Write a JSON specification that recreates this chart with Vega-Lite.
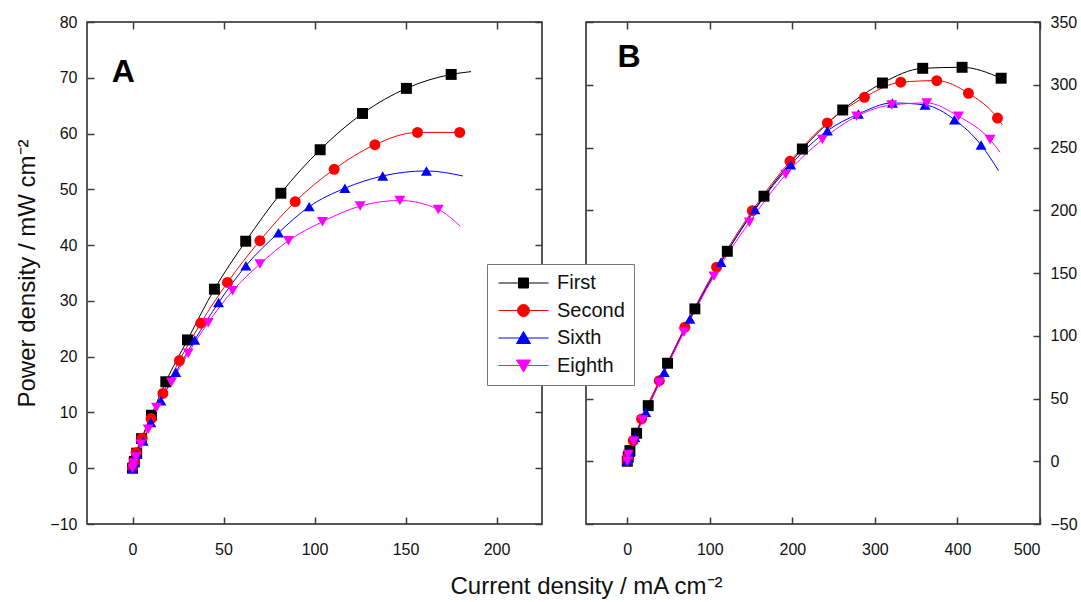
{
 "$schema": "https://vega.github.io/schema/vega-lite/v6.json",
 "padding": {"left": 15, "top": 13, "right": 2, "bottom": 3},
 "background": "white",
 "config": {
   "font": "Liberation Sans",
   "view": {"stroke": "#222222", "strokeWidth": 1.5},
   "axis": {"domain": false, "grid": false, "labelFontSize": 16, "labelColor": "#111111", "labelPadding": 17, "titleFontSize": 24, "titleFontWeight": "normal", "titleColor": "#111111"},
   "axisBottom": {"labelPadding": 24},
   "legend": {"title": null, "orient": "none", "legendX": 400, "legendY": 242, "strokeColor": "#777777", "fillColor": "white", "padding": 9, "labelFontSize": 20, "labelColor": "#111111", "symbolSize": 2500, "symbolStrokeWidth": 1, "clipHeight": 20, "rowPadding": 7.5, "labelOffset": 8, "symbolOffset": 2}
 },
 "title": {"text": "Current density / mA cm⁻²", "orient": "bottom", "anchor": "middle", "fontSize": 24, "fontWeight": "normal", "color": "#111111", "offset": 17, "dx": 40},
 "datasets": {
  "a": [
   {"s":"First","j":0,"p":0,"k":"pt"},{"s":"First","j":1.0,"p":1.2,"k":"pt"},{"s":"First","j":2.3,"p":2.7,"k":"pt"},{"s":"First","j":5.0,"p":5.3,"k":"pt"},{"s":"First","j":10.4,"p":9.5,"k":"pt"},{"s":"First","j":18.3,"p":15.5,"k":"pt"},{"s":"First","j":30.2,"p":23.0,"k":"pt"},{"s":"First","j":45,"p":32.1,"k":"pt"},{"s":"First","j":62.2,"p":40.7,"k":"pt"},{"s":"First","j":81.5,"p":49.3,"k":"pt"},{"s":"First","j":103.1,"p":57.1,"k":"pt"},{"s":"First","j":126.4,"p":63.6,"k":"pt"},{"s":"First","j":150.5,"p":68.1,"k":"pt"},{"s":"First","j":175.1,"p":70.6,"k":"pt"},{"s":"First","j":186,"p":71.1,"k":"fit"},
   {"s":"Second","j":0,"p":0,"k":"pt"},{"s":"Second","j":0.9,"p":1.2,"k":"pt"},{"s":"Second","j":2.0,"p":2.8,"k":"pt"},{"s":"Second","j":5.3,"p":5.4,"k":"pt"},{"s":"Second","j":10.2,"p":8.9,"k":"pt"},{"s":"Second","j":16.7,"p":13.4,"k":"pt"},{"s":"Second","j":25.8,"p":19.3,"k":"pt"},{"s":"Second","j":37.5,"p":26.0,"k":"pt"},{"s":"Second","j":52.2,"p":33.3,"k":"pt"},{"s":"Second","j":70,"p":40.8,"k":"pt"},{"s":"Second","j":89.4,"p":47.8,"k":"pt"},{"s":"Second","j":110.8,"p":53.6,"k":"pt"},{"s":"Second","j":133.2,"p":58.0,"k":"pt"},{"s":"Second","j":156.6,"p":60.2,"k":"pt"},{"s":"Second","j":179.8,"p":60.2,"k":"pt"},
   {"s":"Sixth","j":0,"p":0,"k":"pt"},{"s":"Sixth","j":1.0,"p":1.0,"k":"pt"},{"s":"Sixth","j":2.4,"p":2.5,"k":"pt"},{"s":"Sixth","j":5.9,"p":4.9,"k":"pt"},{"s":"Sixth","j":10.1,"p":8.2,"k":"pt"},{"s":"Sixth","j":15.6,"p":12.1,"k":"pt"},{"s":"Sixth","j":23.8,"p":17.2,"k":"pt"},{"s":"Sixth","j":34.2,"p":23.0,"k":"pt"},{"s":"Sixth","j":47.3,"p":29.7,"k":"pt"},{"s":"Sixth","j":62.3,"p":36.3,"k":"pt"},{"s":"Sixth","j":80.2,"p":42.2,"k":"pt"},{"s":"Sixth","j":97.1,"p":46.9,"k":"pt"},{"s":"Sixth","j":116.7,"p":50.2,"k":"pt"},{"s":"Sixth","j":137.5,"p":52.4,"k":"pt"},{"s":"Sixth","j":161.5,"p":53.3,"k":"pt"},{"s":"Sixth","j":181.5,"p":52.4,"k":"fit"},
   {"s":"Eighth","j":0,"p":0,"k":"pt"},{"s":"Eighth","j":0.6,"p":0.9,"k":"pt"},{"s":"Eighth","j":1.8,"p":2.0,"k":"pt"},{"s":"Eighth","j":4.6,"p":4.3,"k":"pt"},{"s":"Eighth","j":8.6,"p":7.0,"k":"pt"},{"s":"Eighth","j":13.2,"p":10.9,"k":"pt"},{"s":"Eighth","j":21.4,"p":15.4,"k":"pt"},{"s":"Eighth","j":30.6,"p":20.6,"k":"pt"},{"s":"Eighth","j":41.6,"p":26.1,"k":"pt"},{"s":"Eighth","j":55,"p":31.8,"k":"pt"},{"s":"Eighth","j":70,"p":36.6,"k":"pt"},{"s":"Eighth","j":85.7,"p":40.8,"k":"pt"},{"s":"Eighth","j":104.4,"p":44.2,"k":"pt"},{"s":"Eighth","j":125.1,"p":47.0,"k":"pt"},{"s":"Eighth","j":146.9,"p":48.0,"k":"pt"},{"s":"Eighth","j":168,"p":46.4,"k":"pt"},{"s":"Eighth","j":180,"p":43.4,"k":"fit"}
  ],
  "b": [
   {"s":"First","j":0,"p":0,"k":"pt"},{"s":"First","j":1.2,"p":3.5,"k":"pt"},{"s":"First","j":3.2,"p":8.5,"k":"pt"},{"s":"First","j":11.3,"p":22.3,"k":"pt"},{"s":"First","j":25.4,"p":44.3,"k":"pt"},{"s":"First","j":48.8,"p":78.1,"k":"pt"},{"s":"First","j":81.9,"p":121.4,"k":"pt"},{"s":"First","j":121.2,"p":167.3,"k":"pt"},{"s":"First","j":165.6,"p":211.2,"k":"pt"},{"s":"First","j":212.1,"p":248.8,"k":"pt"},{"s":"First","j":261,"p":279.9,"k":"pt"},{"s":"First","j":309.1,"p":301.4,"k":"pt"},{"s":"First","j":357.9,"p":313.1,"k":"pt"},{"s":"First","j":405.6,"p":313.9,"k":"pt"},{"s":"First","j":452.9,"p":305.2,"k":"pt"},
   {"s":"Second","j":0,"p":0,"k":"pt"},{"s":"Second","j":1.2,"p":3.5,"k":"pt"},{"s":"Second","j":7.2,"p":16.4,"k":"pt"},{"s":"Second","j":17.3,"p":33.7,"k":"pt"},{"s":"Second","j":38.8,"p":64.2,"k":"pt"},{"s":"Second","j":69.8,"p":106.8,"k":"pt"},{"s":"Second","j":108.2,"p":154.6,"k":"pt"},{"s":"Second","j":151.5,"p":199.7,"k":"pt"},{"s":"Second","j":197.1,"p":239,"k":"pt"},{"s":"Second","j":242.4,"p":269.6,"k":"pt"},{"s":"Second","j":287.3,"p":290,"k":"pt"},{"s":"Second","j":331.3,"p":302,"k":"pt"},{"s":"Second","j":374.9,"p":303.3,"k":"pt"},{"s":"Second","j":413.3,"p":293.2,"k":"pt"},{"s":"Second","j":448.5,"p":273.5,"k":"pt"},{"s":"Second","j":454.5,"p":268,"k":"fit"},
   {"s":"Sixth","j":0,"p":0,"k":"pt"},{"s":"Sixth","j":1.0,"p":2.5,"k":"pt"},{"s":"Sixth","j":3.2,"p":7.2,"k":"pt"},{"s":"Sixth","j":9.2,"p":19.1,"k":"pt"},{"s":"Sixth","j":22.5,"p":39,"k":"pt"},{"s":"Sixth","j":44.8,"p":70.9,"k":"pt"},{"s":"Sixth","j":75.9,"p":113.4,"k":"pt"},{"s":"Sixth","j":113.5,"p":158.6,"k":"pt"},{"s":"Sixth","j":154.7,"p":200.5,"k":"pt"},{"s":"Sixth","j":198,"p":236.3,"k":"pt"},{"s":"Sixth","j":242.4,"p":263.4,"k":"pt"},{"s":"Sixth","j":280,"p":276.7,"k":"pt"},{"s":"Sixth","j":321.2,"p":285.5,"k":"pt"},{"s":"Sixth","j":360.7,"p":283.9,"k":"pt"},{"s":"Sixth","j":396.4,"p":272.2,"k":"pt"},{"s":"Sixth","j":428.6,"p":252,"k":"pt"},{"s":"Sixth","j":449.7,"p":231.6,"k":"fit"},
   {"s":"Eighth","j":0,"p":0,"k":"pt"},{"s":"Eighth","j":1.2,"p":5.3,"k":"pt"},{"s":"Eighth","j":8,"p":15.9,"k":"pt"},{"s":"Eighth","j":18.5,"p":32.9,"k":"pt"},{"s":"Eighth","j":38.8,"p":62.4,"k":"pt"},{"s":"Eighth","j":68.6,"p":102.8,"k":"pt"},{"s":"Eighth","j":105,"p":147.4,"k":"pt"},{"s":"Eighth","j":147.9,"p":190.4,"k":"pt"},{"s":"Eighth","j":191.9,"p":228.4,"k":"pt"},{"s":"Eighth","j":236.4,"p":256.3,"k":"pt"},{"s":"Eighth","j":278,"p":274.9,"k":"pt"},{"s":"Eighth","j":320.4,"p":283.9,"k":"pt"},{"s":"Eighth","j":362.8,"p":285.5,"k":"pt"},{"s":"Eighth","j":401.2,"p":274.9,"k":"pt"},{"s":"Eighth","j":439.5,"p":256.3,"k":"pt"},{"s":"Eighth","j":451.6,"p":246.2,"k":"fit"}
  ],
  "la": [{"t":"A","j":-5,"p":71}],
  "lb": [{"t":"B","j":2,"p":322}]
 },
 "spacing": 40,
 "hconcat": [
  {
   "width": 455, "height": 502,
   "resolve": {"axis": {"x": "independent", "y": "independent"}},
   "layer": [
    {"data": {"name": "a"}, "mark": {"type": "line", "interpolate": "monotone", "strokeWidth": 1},
     "encoding": {
      "x": {"field": "j", "type": "quantitative", "scale": {"domain": [-25, 225], "nice": false, "zero": false}, "axis": {"orient": "bottom", "values": [0, 50, 100, 150, 200], "title": null, "tickSize": -7, "tickColor": "#3a3a3a", "tickWidth": 1.5, "offset": 0}},
      "y": {"field": "p", "type": "quantitative", "scale": {"domain": [-10, 80], "nice": false, "zero": false}, "axis": {"orient": "left", "values": [-10, 0, 10, 20, 30, 40, 50, 60, 70, 80], "title": "Power density / mW cm⁻²", "titlePadding": 10, "tickSize": -7, "tickColor": "#3a3a3a", "tickWidth": 1.5, "offset": 0}},
      "color": {"field": "s", "type": "nominal", "scale": {"domain": ["First", "Second", "Sixth", "Eighth"], "range": ["#000000", "#ff0000", "#0000ff", "#ff00ff"]},
        "legend": {"encode": {"symbols": {"update": {
            "shape": {"signal": "datum.value === 'First' ? 'M-1,0H1M-0.2,-0.2H0.2V0.2H-0.2Z' : datum.value === 'Second' ? 'M-1,0H1M0.24,0A0.24,0.24,0,1,1,-0.24,0A0.24,0.24,0,1,1,0.24,0Z' : datum.value === 'Sixth' ? 'M-1,0H1M0,-0.26L0.28,0.22L-0.28,0.22Z' : 'M-1,0H1M0,0.26L0.28,-0.22L-0.28,-0.22Z'"},
            "strokeWidth": {"value": 1}, "opacity": {"value": 1}, "fillOpacity": {"value": 1}, "strokeOpacity": {"value": 1}}}}}}
     }},
    {"data": {"name": "a"}, "transform": [{"filter": "datum.k == 'pt'"}], "mark": {"type": "point", "filled": true, "opacity": 1, "size": 120},
     "encoding": {
      "x": {"field": "j", "type": "quantitative", "scale": {"domain": [-25, 225], "nice": false, "zero": false}, "axis": {"orient": "top", "values": [0, 50, 100, 150, 200], "labels": false, "title": null, "tickSize": -7, "tickColor": "#3a3a3a", "tickWidth": 1.5, "offset": 0}},
      "y": {"field": "p", "type": "quantitative", "scale": {"domain": [-10, 80], "nice": false, "zero": false}, "axis": {"orient": "right", "values": [-10, 0, 10, 20, 30, 40, 50, 60, 70, 80], "labels": false, "title": null, "tickSize": -7, "tickColor": "#3a3a3a", "tickWidth": 1.5, "offset": 0}},
      "color": {"field": "s", "type": "nominal", "scale": {"domain": ["First", "Second", "Sixth", "Eighth"], "range": ["#000000", "#ff0000", "#0000ff", "#ff00ff"]},
        "legend": {"encode": {"symbols": {"update": {
            "shape": {"signal": "datum.value === 'First' ? 'M-1,0H1M-0.2,-0.2H0.2V0.2H-0.2Z' : datum.value === 'Second' ? 'M-1,0H1M0.24,0A0.24,0.24,0,1,1,-0.24,0A0.24,0.24,0,1,1,0.24,0Z' : datum.value === 'Sixth' ? 'M-1,0H1M0,-0.26L0.28,0.22L-0.28,0.22Z' : 'M-1,0H1M0,0.26L0.28,-0.22L-0.28,-0.22Z'"},
            "strokeWidth": {"value": 1}, "opacity": {"value": 1}, "fillOpacity": {"value": 1}, "strokeOpacity": {"value": 1}}}}}},
      "shape": {"field": "s", "type": "nominal", "scale": {"domain": ["Eighth", "First", "Second", "Sixth"], "range": ["triangle-down", "square", "circle", "triangle-up"]}, "legend": null}
     }},
    {"data": {"name": "la"}, "mark": {"type": "text", "fontSize": 32, "fontWeight": "bold", "color": "#000000"},
     "encoding": {"x": {"field": "j", "type": "quantitative", "axis": null}, "y": {"field": "p", "type": "quantitative", "axis": null}, "text": {"field": "t"}}}
   ]
  },
  {
   "width": 454, "height": 502,
   "resolve": {"axis": {"x": "independent", "y": "independent"}},
   "layer": [
    {"data": {"name": "b"}, "mark": {"type": "line", "interpolate": "monotone", "strokeWidth": 1},
     "encoding": {
      "x": {"field": "j", "type": "quantitative", "scale": {"domain": [-50, 500], "nice": false, "zero": false}, "axis": {"orient": "bottom", "values": [0, 100, 200, 300, 400, 500], "title": null, "tickSize": -7, "tickColor": "#3a3a3a", "tickWidth": 1.5, "offset": 0}},
      "y": {"field": "p", "type": "quantitative", "scale": {"domain": [-50, 350], "nice": false, "zero": false}, "axis": {"orient": "right", "values": [-50, 0, 50, 100, 150, 200, 250, 300, 350], "title": null, "tickSize": -7, "tickColor": "#3a3a3a", "tickWidth": 1.5, "offset": 0}},
      "color": {"field": "s", "type": "nominal", "scale": {"domain": ["First", "Second", "Sixth", "Eighth"], "range": ["#000000", "#ff0000", "#0000ff", "#ff00ff"]},
        "legend": {"encode": {"symbols": {"update": {
            "shape": {"signal": "datum.value === 'First' ? 'M-1,0H1M-0.2,-0.2H0.2V0.2H-0.2Z' : datum.value === 'Second' ? 'M-1,0H1M0.24,0A0.24,0.24,0,1,1,-0.24,0A0.24,0.24,0,1,1,0.24,0Z' : datum.value === 'Sixth' ? 'M-1,0H1M0,-0.26L0.28,0.22L-0.28,0.22Z' : 'M-1,0H1M0,0.26L0.28,-0.22L-0.28,-0.22Z'"},
            "strokeWidth": {"value": 1}, "opacity": {"value": 1}, "fillOpacity": {"value": 1}, "strokeOpacity": {"value": 1}}}}}}
     }},
    {"data": {"name": "b"}, "transform": [{"filter": "datum.k == 'pt'"}], "mark": {"type": "point", "filled": true, "opacity": 1, "size": 120},
     "encoding": {
      "x": {"field": "j", "type": "quantitative", "scale": {"domain": [-50, 500], "nice": false, "zero": false}, "axis": {"orient": "top", "values": [0, 100, 200, 300, 400, 500], "labels": false, "title": null, "tickSize": -7, "tickColor": "#3a3a3a", "tickWidth": 1.5, "offset": 0}},
      "y": {"field": "p", "type": "quantitative", "scale": {"domain": [-50, 350], "nice": false, "zero": false}, "axis": {"orient": "left", "values": [-50, 0, 50, 100, 150, 200, 250, 300, 350], "labels": false, "title": null, "tickSize": -7, "tickColor": "#3a3a3a", "tickWidth": 1.5, "offset": 0}},
      "color": {"field": "s", "type": "nominal", "scale": {"domain": ["First", "Second", "Sixth", "Eighth"], "range": ["#000000", "#ff0000", "#0000ff", "#ff00ff"]},
        "legend": {"encode": {"symbols": {"update": {
            "shape": {"signal": "datum.value === 'First' ? 'M-1,0H1M-0.2,-0.2H0.2V0.2H-0.2Z' : datum.value === 'Second' ? 'M-1,0H1M0.24,0A0.24,0.24,0,1,1,-0.24,0A0.24,0.24,0,1,1,0.24,0Z' : datum.value === 'Sixth' ? 'M-1,0H1M0,-0.26L0.28,0.22L-0.28,0.22Z' : 'M-1,0H1M0,0.26L0.28,-0.22L-0.28,-0.22Z'"},
            "strokeWidth": {"value": 1}, "opacity": {"value": 1}, "fillOpacity": {"value": 1}, "strokeOpacity": {"value": 1}}}}}},
      "shape": {"field": "s", "type": "nominal", "scale": {"domain": ["Eighth", "First", "Second", "Sixth"], "range": ["triangle-down", "square", "circle", "triangle-up"]}, "legend": null}
     }},
    {"data": {"name": "lb"}, "mark": {"type": "text", "fontSize": 32, "fontWeight": "bold", "color": "#000000"},
     "encoding": {"x": {"field": "j", "type": "quantitative", "axis": null}, "y": {"field": "p", "type": "quantitative", "axis": null}, "text": {"field": "t"}}}
   ]
  }
 ]
}
